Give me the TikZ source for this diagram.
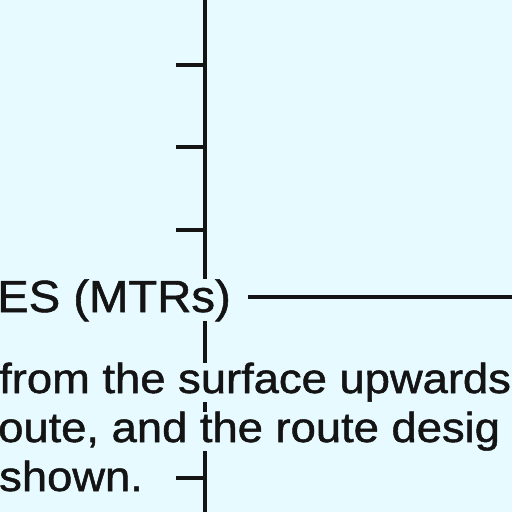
\documentclass[tikz,border=0pt]{standalone}
\usepackage{fontspec}
\newfontfamily\lab[FakeStretch=1.08,FakeBold=1.2]{Liberation Sans}
\newfontfamily\labt[FakeStretch=1.05,FakeBold=1.2]{Liberation Sans}
\definecolor{bg}{RGB}{230,250,255}
\definecolor{ink}{RGB}{20,20,20}
\begin{document}
\begin{tikzpicture}[x=1pt,y=-1pt,
  axisline/.style={draw=ink,line width=3.4pt},
  tickline/.style={draw=ink,line width=3.4pt},
  rule/.style={draw=ink,line width=3.8pt},
  title/.style={anchor=base west,inner sep=0pt,fill=bg,text=ink,font=\labt\fontsize{45}{50}\selectfont},
  body/.style={anchor=base west,inner sep=0pt,fill=bg,text=ink,font=\lab\fontsize{42}{48}\selectfont}]
\fill[bg] (0,0) rectangle (512,512);
\useasboundingbox (0,0) rectangle (512,512);
% axis
\coordinate (top) at (205,0);
\coordinate (bot) at (205,512);
\draw[axisline] (top) -- (bot);
\foreach \i/\y in {1/65,2/147,3/230,4/478}{
  \coordinate (t\i a) at (176,\y);
  \coordinate (t\i b) at (205,\y);
  \draw[tickline] (t\i a) -- (t\i b);
}
% title and rule
\node[title] (ttl) at (-3,312) {ES (MTRs)};
\coordinate (ruleA) at (248,297);
\coordinate (ruleB) at (512,297);
\draw[rule] (ruleA) -- (ruleB);
% body text
\node[body] (l1) at (-1,393) {from the surface upwards};
\node[body] (l2) at (-2,442) {oute, and the route desig};
\node[body] (l3) at (-1,491) {shown.};
\end{tikzpicture}
\end{document}
